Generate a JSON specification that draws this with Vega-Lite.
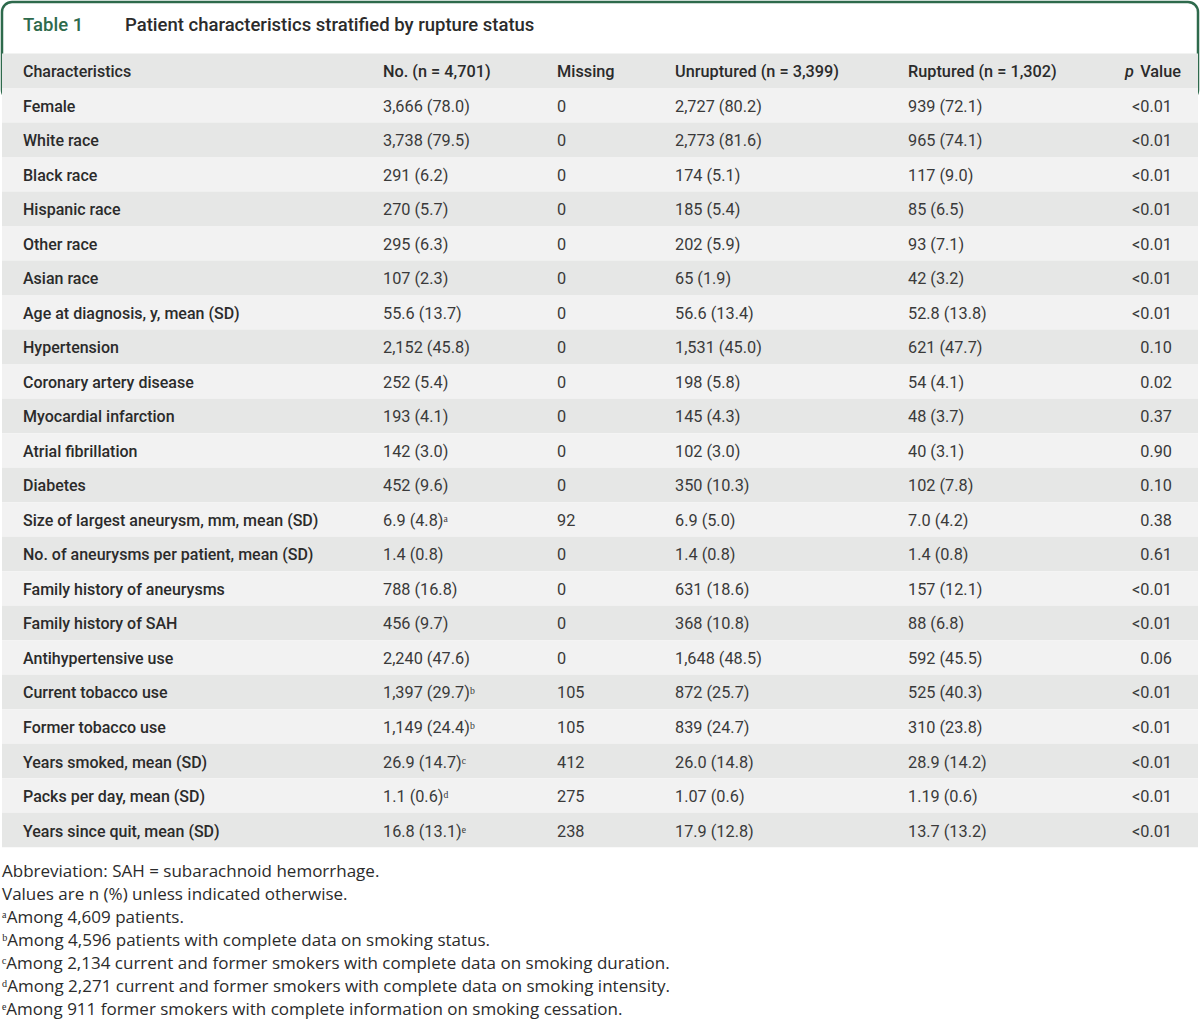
{
  "$schema": "https://vega.github.io/schema/vega-lite/v6.json",
  "width": 1200,
  "height": 1020,
  "autosize": {"type": "fit", "contains": "padding"},
  "padding": 0,
  "background": "white",
  "config": {"view": {"stroke": null}, "text": {"font": "Roboto", "fontSize": 16.3}},
  "datasets": {
    "title": [{"Table": "Table 1", "Title": "Patient characteristics stratified by rupture status"}],
    "table": [
      {"Characteristics": "Characteristics", "No": "No. (n = 4,701)", "Missing": "Missing", "Unruptured": "Unruptured (n = 3,399)", "Ruptured": "Ruptured (n = 1,302)", "pItalic": "p", "p": "Value"},
      {"Characteristics": "Female", "No": "3,666 (78.0)", "Missing": "0", "Unruptured": "2,727 (80.2)", "Ruptured": "939 (72.1)", "p": "<0.01"},
      {"Characteristics": "White race", "No": "3,738 (79.5)", "Missing": "0", "Unruptured": "2,773 (81.6)", "Ruptured": "965 (74.1)", "p": "<0.01"},
      {"Characteristics": "Black race", "No": "291 (6.2)", "Missing": "0", "Unruptured": "174 (5.1)", "Ruptured": "117 (9.0)", "p": "<0.01"},
      {"Characteristics": "Hispanic race", "No": "270 (5.7)", "Missing": "0", "Unruptured": "185 (5.4)", "Ruptured": "85 (6.5)", "p": "<0.01"},
      {"Characteristics": "Other race", "No": "295 (6.3)", "Missing": "0", "Unruptured": "202 (5.9)", "Ruptured": "93 (7.1)", "p": "<0.01"},
      {"Characteristics": "Asian race", "No": "107 (2.3)", "Missing": "0", "Unruptured": "65 (1.9)", "Ruptured": "42 (3.2)", "p": "<0.01"},
      {"Characteristics": "Age at diagnosis, y, mean (SD)", "No": "55.6 (13.7)", "Missing": "0", "Unruptured": "56.6 (13.4)", "Ruptured": "52.8 (13.8)", "p": "<0.01"},
      {"Characteristics": "Hypertension", "No": "2,152 (45.8)", "Missing": "0", "Unruptured": "1,531 (45.0)", "Ruptured": "621 (47.7)", "p": "0.10"},
      {"Characteristics": "Coronary artery disease", "No": "252 (5.4)", "Missing": "0", "Unruptured": "198 (5.8)", "Ruptured": "54 (4.1)", "p": "0.02"},
      {"Characteristics": "Myocardial infarction", "No": "193 (4.1)", "Missing": "0", "Unruptured": "145 (4.3)", "Ruptured": "48 (3.7)", "p": "0.37"},
      {"Characteristics": "Atrial fibrillation", "No": "142 (3.0)", "Missing": "0", "Unruptured": "102 (3.0)", "Ruptured": "40 (3.1)", "p": "0.90"},
      {"Characteristics": "Diabetes", "No": "452 (9.6)", "Missing": "0", "Unruptured": "350 (10.3)", "Ruptured": "102 (7.8)", "p": "0.10"},
      {"Characteristics": "Size of largest aneurysm, mm, mean (SD)", "No": "6.9 (4.8)ᵃ", "Missing": "92", "Unruptured": "6.9 (5.0)", "Ruptured": "7.0 (4.2)", "p": "0.38"},
      {"Characteristics": "No. of aneurysms per patient, mean (SD)", "No": "1.4 (0.8)", "Missing": "0", "Unruptured": "1.4 (0.8)", "Ruptured": "1.4 (0.8)", "p": "0.61"},
      {"Characteristics": "Family history of aneurysms", "No": "788 (16.8)", "Missing": "0", "Unruptured": "631 (18.6)", "Ruptured": "157 (12.1)", "p": "<0.01"},
      {"Characteristics": "Family history of SAH", "No": "456 (9.7)", "Missing": "0", "Unruptured": "368 (10.8)", "Ruptured": "88 (6.8)", "p": "<0.01"},
      {"Characteristics": "Antihypertensive use", "No": "2,240 (47.6)", "Missing": "0", "Unruptured": "1,648 (48.5)", "Ruptured": "592 (45.5)", "p": "0.06"},
      {"Characteristics": "Current tobacco use", "No": "1,397 (29.7)ᵇ", "Missing": "105", "Unruptured": "872 (25.7)", "Ruptured": "525 (40.3)", "p": "<0.01"},
      {"Characteristics": "Former tobacco use", "No": "1,149 (24.4)ᵇ", "Missing": "105", "Unruptured": "839 (24.7)", "Ruptured": "310 (23.8)", "p": "<0.01"},
      {"Characteristics": "Years smoked, mean (SD)", "No": "26.9 (14.7)ᶜ", "Missing": "412", "Unruptured": "26.0 (14.8)", "Ruptured": "28.9 (14.2)", "p": "<0.01"},
      {"Characteristics": "Packs per day, mean (SD)", "No": "1.1 (0.6)ᵈ", "Missing": "275", "Unruptured": "1.07 (0.6)", "Ruptured": "1.19 (0.6)", "p": "<0.01"},
      {"Characteristics": "Years since quit, mean (SD)", "No": "16.8 (13.1)ᵉ", "Missing": "238", "Unruptured": "17.9 (12.8)", "Ruptured": "13.7 (13.2)", "p": "<0.01"}
    ],
    "notes": [
      {"note": "Abbreviation: SAH = subarachnoid hemorrhage."},
      {"note": "Values are n (%) unless indicated otherwise."},
      {"note": "ᵃAmong 4,609 patients."},
      {"note": "ᵇAmong 4,596 patients with complete data on smoking status."},
      {"note": "ᶜAmong 2,134 current and former smokers with complete data on smoking duration."},
      {"note": "ᵈAmong 2,271 current and former smokers with complete data on smoking intensity."},
      {"note": "ᵉAmong 911 former smokers with complete information on smoking cessation."}
    ]
  },
  "layer": [
    {
      "data": {"name": "title"},
      "mark": {"type": "rect", "fill": "white", "stroke": "#2e6a4c", "strokeWidth": 2.5, "cornerRadius": 10},
      "encoding": {
        "y": {"field": "Table", "type": "nominal", "axis": null, "scale": {"type": "band", "range": [2, 100], "paddingInner": 0, "paddingOuter": 0}}
      }
    },
    {
      "data": {"name": "title"},
      "mark": {"type": "text", "align": "left", "baseline": "middle", "fontSize": 18.5, "fontWeight": 500, "color": "#2e6a4c"},
      "encoding": {
        "x": {"datum": 0, "type": "quantitative", "axis": null, "scale": {"domain": [0, 1, 2, 3, 4, 5], "range": [21, 381, 555, 673, 906, 1170], "zero": false, "nice": false}},
        "y": {"field": "Table", "type": "nominal", "axis": null, "scale": {"type": "band", "range": [3, 46], "paddingInner": 0, "paddingOuter": 0}},
        "text": {"field": "Table"}
      }
    },
    {
      "data": {"name": "title"},
      "mark": {"type": "text", "align": "left", "baseline": "middle", "fontSize": 18.5, "fontWeight": 500, "color": "#2b2b2b", "dx": 102},
      "encoding": {
        "x": {"datum": 0, "type": "quantitative", "axis": null},
        "y": {"field": "Title", "type": "nominal", "axis": null, "scale": {"type": "band", "range": [3, 46], "paddingInner": 0, "paddingOuter": 0}},
        "text": {"field": "Title"}
      }
    },
    {
      "data": {"name": "table"},
      "transform": [{"window": [{"op": "row_number", "as": "rn"}]}],
      "encoding": {
        "y": {"field": "rn", "type": "ordinal", "axis": null, "scale": {"type": "band", "range": [53.5, 847.3], "paddingInner": 0, "paddingOuter": 0}}
      },
      "layer": [
        {
          "mark": {"type": "rect"},
          "encoding": {
            "fill": {"condition": {"test": "datum.rn % 2 === 1", "value": "#e6e7e6"}, "value": "#f2f2f2"}
          }
        },
        {
          "mark": {"type": "text", "align": "left", "baseline": "middle", "dy": 1.5, "fontSize": 16, "fontWeight": 500, "color": "#2b2b2b"},
          "encoding": {"x": {"datum": 0, "type": "quantitative", "axis": null}, "text": {"field": "Characteristics"}}
        },
        {
          "transform": [{"filter": "datum.rn === 1"}],
          "mark": {"type": "text", "align": "left", "baseline": "middle", "dy": 1.5, "fontSize": 16.3, "fontWeight": 500, "color": "#2b2b2b"},
          "encoding": {"x": {"datum": 1, "type": "quantitative", "axis": null}, "text": {"field": "No"}}
        },
        {
          "transform": [{"filter": "datum.rn === 1"}],
          "mark": {"type": "text", "align": "left", "baseline": "middle", "dy": 1.5, "fontSize": 16.3, "fontWeight": 500, "color": "#2b2b2b"},
          "encoding": {"x": {"datum": 2, "type": "quantitative", "axis": null}, "text": {"field": "Missing"}}
        },
        {
          "transform": [{"filter": "datum.rn === 1"}],
          "mark": {"type": "text", "align": "left", "baseline": "middle", "dy": 1.5, "fontSize": 16.3, "fontWeight": 500, "color": "#2b2b2b"},
          "encoding": {"x": {"datum": 3, "type": "quantitative", "axis": null}, "text": {"field": "Unruptured"}}
        },
        {
          "transform": [{"filter": "datum.rn === 1"}],
          "mark": {"type": "text", "align": "left", "baseline": "middle", "dy": 1.5, "fontSize": 16.3, "fontWeight": 500, "color": "#2b2b2b"},
          "encoding": {"x": {"datum": 4, "type": "quantitative", "axis": null}, "text": {"field": "Ruptured"}}
        },
        {
          "transform": [{"filter": "datum.rn === 1"}],
          "mark": {"type": "text", "align": "left", "baseline": "middle", "dy": 1.5, "fontSize": 16.3, "fontWeight": 500, "fontStyle": "italic", "color": "#2b2b2b", "dx": -47},
          "encoding": {"x": {"datum": 5, "type": "quantitative", "axis": null}, "text": {"field": "pItalic"}}
        },
        {
          "transform": [{"filter": "datum.rn === 1"}],
          "mark": {"type": "text", "align": "right", "baseline": "middle", "dy": 1.5, "fontSize": 16.3, "fontWeight": 500, "color": "#2b2b2b", "dx": 9},
          "encoding": {"x": {"datum": 5, "type": "quantitative", "axis": null}, "text": {"field": "p"}}
        },
        {
          "transform": [{"filter": "datum.rn > 1"}],
          "mark": {"type": "text", "align": "left", "baseline": "middle", "dy": 1.5, "color": "#3a3a3a"},
          "encoding": {"x": {"datum": 1, "type": "quantitative", "axis": null}, "text": {"field": "No"}}
        },
        {
          "transform": [{"filter": "datum.rn > 1"}],
          "mark": {"type": "text", "align": "left", "baseline": "middle", "dy": 1.5, "color": "#3a3a3a"},
          "encoding": {"x": {"datum": 2, "type": "quantitative", "axis": null}, "text": {"field": "Missing"}}
        },
        {
          "transform": [{"filter": "datum.rn > 1"}],
          "mark": {"type": "text", "align": "left", "baseline": "middle", "dy": 1.5, "color": "#3a3a3a"},
          "encoding": {"x": {"datum": 3, "type": "quantitative", "axis": null}, "text": {"field": "Unruptured"}}
        },
        {
          "transform": [{"filter": "datum.rn > 1"}],
          "mark": {"type": "text", "align": "left", "baseline": "middle", "dy": 1.5, "color": "#3a3a3a"},
          "encoding": {"x": {"datum": 4, "type": "quantitative", "axis": null}, "text": {"field": "Ruptured"}}
        },
        {
          "transform": [{"filter": "datum.rn > 1"}],
          "mark": {"type": "text", "align": "right", "baseline": "middle", "dy": 1.5, "color": "#3a3a3a"},
          "encoding": {"x": {"datum": 5, "type": "quantitative", "axis": null}, "text": {"field": "p"}}
        }
      ]
    },
    {
      "data": {"name": "notes"},
      "transform": [{"window": [{"op": "row_number", "as": "line"}]}],
      "mark": {"type": "text", "align": "left", "baseline": "middle", "font": "Open Sans", "fontSize": 17, "color": "#2b2b2b", "dx": -21},
      "encoding": {
        "x": {"datum": 0, "type": "quantitative", "axis": null},
        "y": {"field": "line", "type": "ordinal", "axis": null, "scale": {"type": "band", "range": [860, 1021], "paddingInner": 0, "paddingOuter": 0}},
        "text": {"field": "note"}
      }
    }
  ],
  "resolve": {"scale": {"y": "independent"}}
}
